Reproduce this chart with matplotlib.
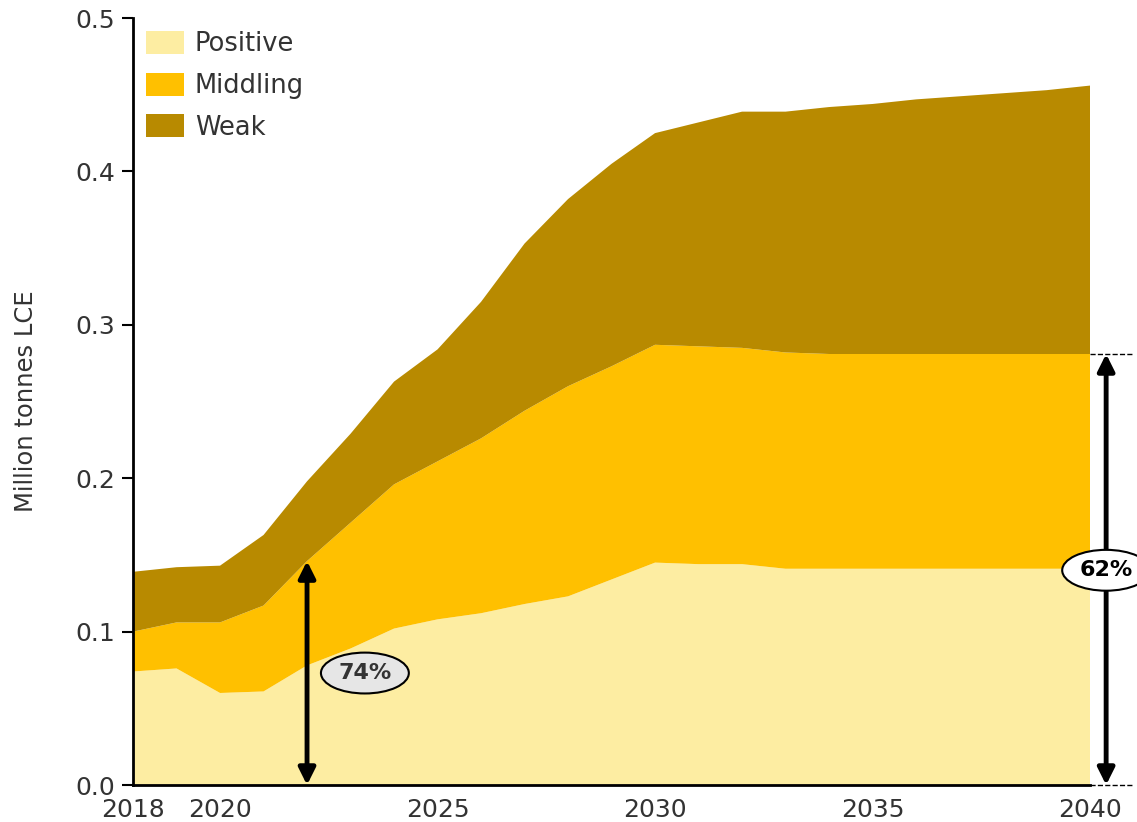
import numpy as np
import matplotlib
matplotlib.use("Agg")
import matplotlib.pyplot as plt

plt.rcParams['font.family'] = ['DejaVu Sans']

# Data (million tonnes LCE)
years = list(range(2018, 2041))
positive = [0.074, 0.076, 0.060, 0.061, 0.078, 0.089, 0.102, 0.108, 0.112, 0.118,
            0.123, 0.134, 0.145, 0.144, 0.144, 0.141, 0.141, 0.141, 0.141, 0.141,
            0.141, 0.141, 0.141]
middling_top = [0.100, 0.106, 0.106, 0.117, 0.146, 0.171, 0.196, 0.211, 0.226, 0.244,
                0.260, 0.273, 0.287, 0.286, 0.285, 0.282, 0.281, 0.281, 0.281, 0.281,
                0.281, 0.281, 0.281]
total = [0.139, 0.142, 0.143, 0.163, 0.198, 0.229, 0.263, 0.284, 0.315, 0.353,
         0.382, 0.405, 0.425, 0.432, 0.439, 0.439, 0.442, 0.444, 0.447, 0.449,
         0.451, 0.453, 0.456]
labels = ['Positive', 'Middling', 'Weak']
colors = ['#FDEDA2', '#FFC000', '#B88A00']
xticks = [2018, 2020, 2025, 2030, 2035, 2040]
yticks = [0.0, 0.1, 0.2, 0.3, 0.4, 0.5]

middling = np.array(middling_top) - np.array(positive)
weak = np.array(total) - np.array(middling_top)

fig = plt.figure(figsize=(11.37, 8.22), dpi=100)
ax = fig.add_axes([0.117, 0.045, 0.8417, 0.933])

ax.stackplot(years, positive, middling, weak, labels=labels, colors=colors, lw=0)

ax.set_xlim(2018, 2040)
ax.set_ylim(0, 0.5)
ax.set_xticks(xticks)
ax.set_yticks(yticks)
ax.set_yticklabels([f"{v:.1f}" for v in yticks])
ax.tick_params(axis='y', length=8, width=1.5, labelsize=18, colors='#333333', pad=5)
ax.tick_params(axis='x', length=0, labelsize=18, colors='#333333', pad=9)
ax.tick_params(axis='both', color='black')
for s in ['top', 'right']:
    ax.spines[s].set_visible(False)
for s in ['left', 'bottom']:
    ax.spines[s].set_linewidth(2)
ax.set_ylabel('Million tonnes LCE', fontsize=17.5, color='#333333')
ax.yaxis.set_label_coords(-0.099, 0.5)

ax.legend(loc='upper left', bbox_to_anchor=(0.0, 1.0), frameon=False, fontsize=18.5,
          handlelength=1.5, handleheight=1.0, handletextpad=0.4, labelcolor='#333333',
          borderaxespad=0.45, borderpad=0.05, labelspacing=0.6)

# 74% share arrow at 2022
i22 = years.index(2022)
ax.annotate('', xy=(2022, middling_top[i22]), xytext=(2022, 0),
            arrowprops=dict(arrowstyle='<|-|>', lw=3.5, color='black',
                            mutation_scale=25, shrinkA=0, shrinkB=0))
ax.text(2023.33, 0.073, '74%', fontsize=16, fontweight='bold', color='#333333',
        ha='center', va='center',
        bbox=dict(boxstyle='ellipse,pad=0.2', fc='#E6E6E6', ec='black', lw=1.5))

# 62% share arrow at the right of 2040
xr = 2040.37
ax.plot([2040, 2041.0], [middling_top[-1]] * 2, ls='--', lw=1, color='black', clip_on=False)
ax.plot([2040, 2041.0], [0, 0], ls='--', lw=1, color='black', clip_on=False)
ax.annotate('', xy=(xr, middling_top[-1]), xytext=(xr, 0),
            arrowprops=dict(arrowstyle='<|-|>', lw=3.5, color='black',
                            mutation_scale=25, shrinkA=0, shrinkB=0),
            annotation_clip=False)
ax.text(xr, 0.140, '62%', fontsize=16, fontweight='bold', color='black',
        ha='center', va='center', clip_on=False,
        bbox=dict(boxstyle='ellipse,pad=0.2', fc='white', ec='black', lw=1.5))

fig.savefig('out.png', dpi=100)
